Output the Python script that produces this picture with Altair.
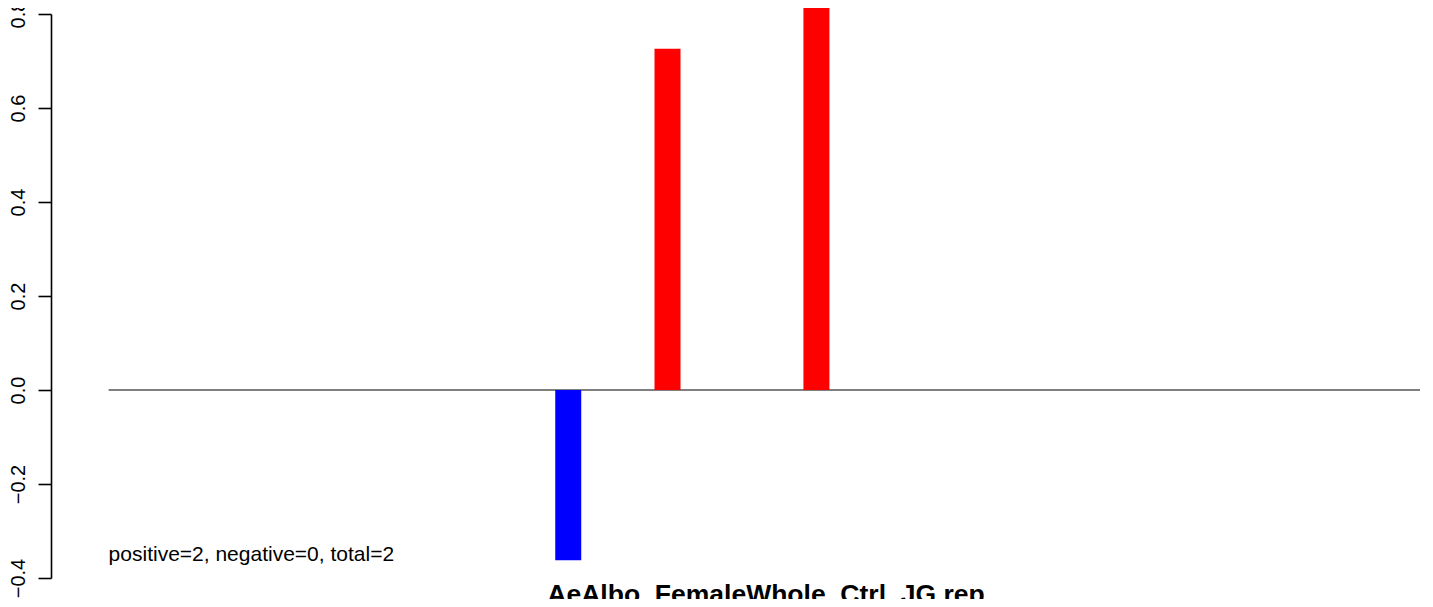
import altair as alt
import pandas as pd

# ---- data ----
positions = [10, 12, 15]             # bar positions along the index axis
values = [-0.362, 0.726, 0.95]       # last bar runs off the top of the picture
bar_colors = ["blue", "red", "red"]
baseline_x = [0.74, 27.16]           # extent of the zero line (data range)
y_ticks = [-0.4, -0.2, 0.0, 0.2, 0.4, 0.6, 0.8]
annotation = ["positive=2, negative=0, total=2"]
annotation_y = [-0.35]
main_title = "AeAlbo_FemaleWhole_Ctrl_JG.rep"

FONT = "Liberation Sans"

bars_df = pd.DataFrame({"pos": positions, "val": values, "zero": [0] * len(values), "col": bar_colors})
base_df = pd.DataFrame({"x": [baseline_x[0]], "x2": [baseline_x[1]], "y": [0.0]})
text_df = pd.DataFrame({"x": [baseline_x[0]], "y": annotation_y, "label": annotation})

xscale = alt.Scale(domain=[-0.32, 27.16], nice=False, zero=False)
yscale = alt.Scale(domain=[-0.4, 0.8], nice=False, zero=False)
yaxis = alt.Axis(
    values=y_ticks, format=".1f", title=None, grid=False,
    labelAngle=270, labelAlign="center", labelBaseline="alphabetic",
    labelPadding=13.5, labelFlush=False, labelOverlap=False,
    labelFont=FONT, labelFontSize=20, labelColor="black",
    tickSize=13, tickColor="black", tickWidth=1.6,
    domainColor="black", domainWidth=1.6,
)

baseline = alt.Chart(base_df).mark_rule(color="#555555", strokeWidth=1.3).encode(
    x=alt.X("x:Q", scale=xscale, axis=None),
    x2="x2:Q",
    y=alt.Y("y:Q", scale=yscale, axis=yaxis),
)

bars = alt.Chart(bars_df).mark_bar(size=26).encode(
    x=alt.X("pos:Q", scale=xscale, axis=None),
    y=alt.Y("val:Q", scale=yscale, axis=yaxis),
    y2="zero:Q",
    color=alt.Color("col:N", scale=None),
)

text = alt.Chart(text_df).mark_text(
    align="left", baseline="middle", font=FONT, fontSize=21, color="black"
).encode(
    x=alt.X("x:Q", scale=xscale, axis=None),
    y=alt.Y("y:Q", scale=yscale, axis=yaxis),
    text="label:N",
)

chart = alt.layer(baseline, bars, text).properties(
    width=1374,
    height=564,
    title=alt.TitleParams(
        text=main_title, orient="bottom", anchor="middle", frame="group",
        offset=-16, dx=28,
        font=FONT, fontSize=26.5, fontWeight="bold", color="black",
    ),
    autosize=alt.AutoSizeParams(type="none"),
    padding={"left": 43, "top": 6, "right": 0, "bottom": 21},
).configure(
    background="white",
    view=alt.ViewConfig(stroke="transparent", strokeWidth=0),
)

chart.save("out.html", embed_options={"renderer": "svg", "actions": False})
